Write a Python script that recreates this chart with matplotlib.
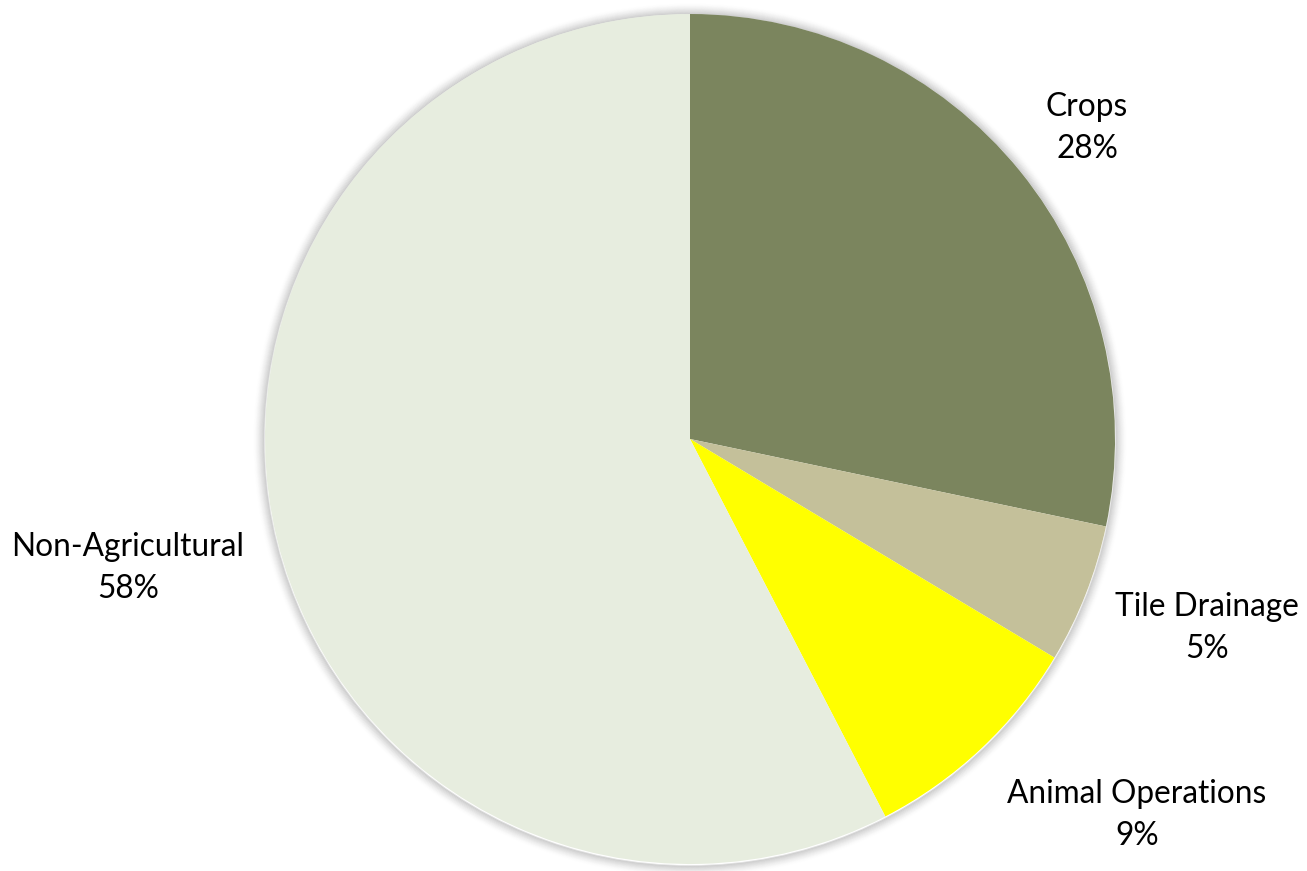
import matplotlib.pyplot as plt
from matplotlib.patches import Circle
import numpy as np

# share of load by source
sources = ["Crops", "Tile Drainage", "Animal Operations", "Non-Agricultural"]
shares = [28.3, 5.3, 8.8, 57.6]
colors = ["#7b855e", "#c4c09a", "#ffff00", "#e7eddf"]

W, H = 1307, 871
fig = plt.figure(figsize=(W / 100, H / 100), dpi=100)
ax = fig.add_axes([0, 0, 1, 1])

cx, cy, r = 690, H - 439, 425

# soft shadow around the pie
for k in range(1, 12):
    ax.add_patch(Circle((cx, cy - 1), r + k, facecolor="none",
                        edgecolor="black", lw=1.2, alpha=0.12 * ((12 - k) / 11) ** 1.5, zorder=0))

wedges, _ = ax.pie(shares, colors=colors, startangle=90, counterclock=False,
                   center=(cx, cy), radius=r, frame=True,
                   wedgeprops=dict(linewidth=0))
ax.set_xlim(0, W)
ax.set_ylim(0, H)
ax.set_aspect("equal")
ax.axis("off")

# label anchor points (pixels from the top-left)
label_pos = [(1087, 128), (1207, 628), (1137, 815), (128, 568)]
for name, val, (lx, ly) in zip(sources, shares, label_pos):
    ax.text(lx, H - ly, f"{name}\n{val:.0f}%", ha="center", va="center",
            fontsize=22.8, family="Lato", linespacing=1.5)

fig.savefig("out.png", dpi=100)
